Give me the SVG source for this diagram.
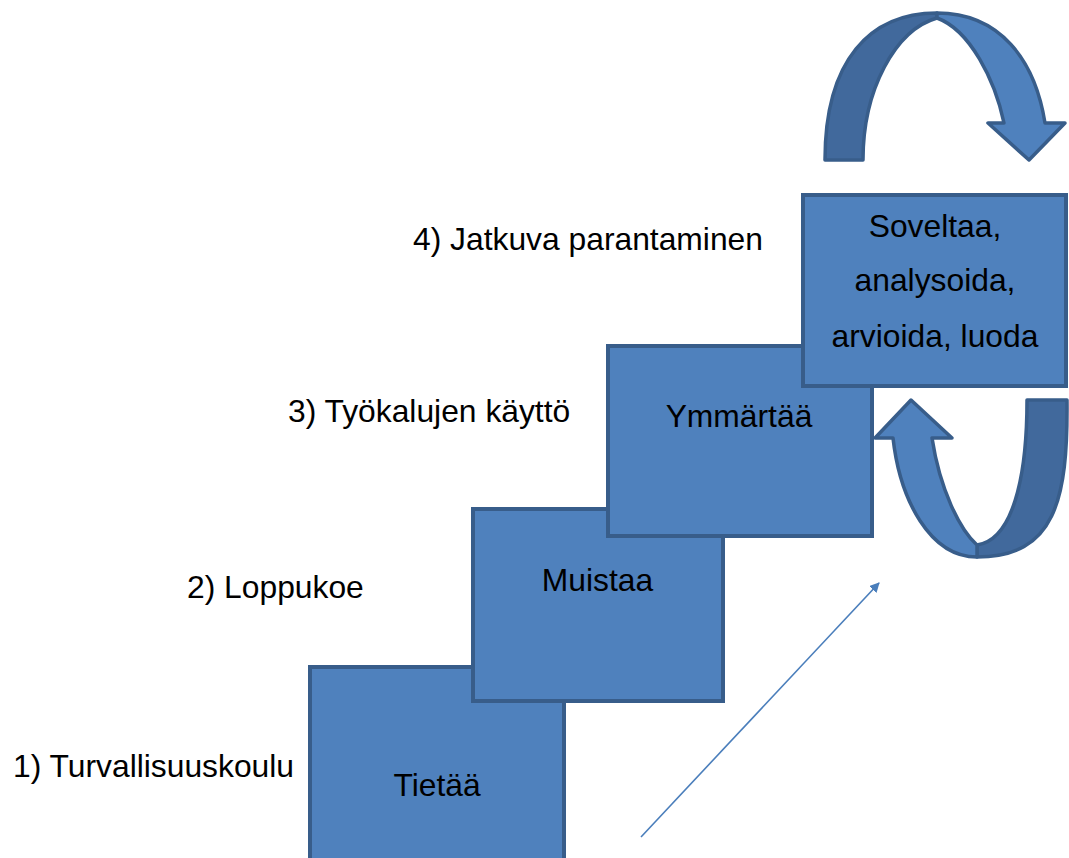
<svg xmlns="http://www.w3.org/2000/svg" width="1069" height="858" viewBox="0 0 1069 858">
<style>
.box{fill:#4f81bd;stroke:#385d8a;stroke-width:4;stroke-linejoin:miter}
.t{font-family:"Liberation Sans",Arial,sans-serif;font-size:31.8px;fill:#000}
.c{text-anchor:middle}
.light{fill:#4f81bd;stroke:#385d8a;stroke-width:3.5;stroke-linejoin:round}
.dark{fill:#41699c;stroke:#385d8a;stroke-width:3.5;stroke-linejoin:round}
</style>
<defs>
<marker id="ah" viewBox="0 0 10 10" refX="9" refY="5" markerWidth="10" markerHeight="10" markerUnits="userSpaceOnUse" orient="auto">
<path d="M0,0 L10,5 L0,10 Z" fill="#4a7ebb"/>
</marker>
</defs>
<g id="labels">
<text class="t" x="13" y="777">1) Turvallisuuskoulu</text>
<text class="t" x="187" y="598">2) Loppukoe</text>
<text class="t" x="288" y="422">3) Työkalujen käyttö</text>
<text class="t" x="413" y="250">4) Jatkuva parantaminen</text>
</g>
<g id="step1">
<rect class="box" x="310" y="667" width="254" height="200"/>
<text class="t c" x="437" y="796">Tietää</text>
</g>
<g id="step2">
<rect class="box" x="473" y="509" width="250" height="192"/>
<text class="t c" x="597.5" y="591">Muistaa</text>
</g>
<g id="step3">
<rect class="box" x="608" y="346" width="264" height="190"/>
<text class="t c" x="739" y="427">Ymmärtää</text>
</g>
<g id="step4">
<rect class="box" x="803" y="195" width="263" height="191"/>
<text class="t c" x="935" y="237">Soveltaa,</text>
<text class="t c" x="935" y="291">analysoida,</text>
<text class="t c" x="935" y="347">arvioida, luoda</text>
</g>
<g id="connectors">
<g id="loop-top">
<path class="dark" d="M825,160 C825,60 870,13 937,13 L937,18 C895,30 863,90 863,160 Z"/>
<path class="light" d="M937,13 C1000,13 1035,60 1045,123 L1065,123 L1029,160 L988,123 L1004,123 C995,80 970,30 937,18 Z"/>
</g>
<g id="loop-bottom">
<path class="dark" d="M1067,400 C1068,500 1055,557 977,557 L977,545 C1012,540 1027,480 1027,400 Z"/>
<path class="light" d="M893,438 C900,500 930,557 977,557 L977,545 C960,530 940,490 932,438 L952,438 L911,400 L875,438 Z"/>
</g>
<line x1="641" y1="837" x2="879" y2="583" stroke="#4a7ebb" stroke-width="1.6" marker-end="url(#ah)"/>
</g>
</svg>
